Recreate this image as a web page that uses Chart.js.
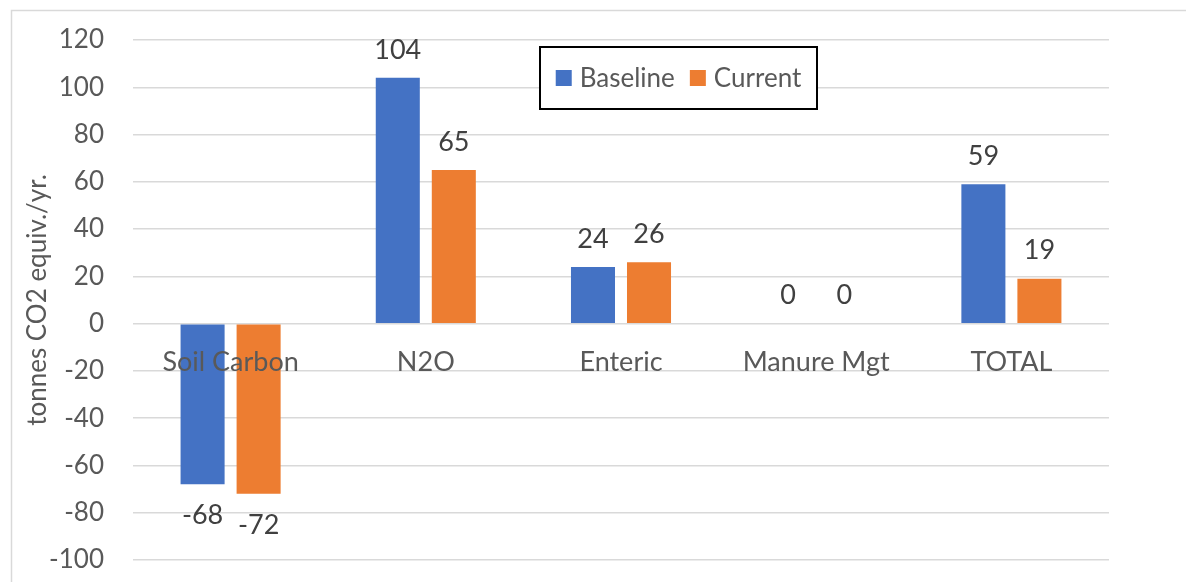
<!DOCTYPE html>
<html>
<head>
<meta charset="utf-8">
<script src="https://cdn.jsdelivr.net/npm/chart.js@4/dist/chart.umd.min.js"></script>
<style>
  html, body { margin: 0; padding: 0; background: #ffffff; }
  #wrap { width: 1186px; height: 582px; position: relative; }
</style>
</head>
<body>
<div id="wrap"><canvas id="chart" width="1186" height="582"></canvas></div>
<script>
// Emissions by source, tonnes CO2 equivalent per year
const categories = ['Soil Carbon', 'N2O', 'Enteric', 'Manure Mgt', 'TOTAL'];
const baselineValues = [-68, 104, 24, 0, 59];
const currentValues = [-72, 65, 26, 0, 19];
const seriesNames = ['Baseline', 'Current'];
const yTicks = { min: -100, max: 120, step: 20 };
const yTitle = 'tonnes CO2 equiv./yr.';

const FONT = 'Lato, "Open Sans", "Liberation Sans", sans-serif';
const BLUE = '#4472C4';
const ORANGE = '#ED7D31';
const GRID = '#d9d9d9';
const TEXT = '#595959';
const LABEL = '#404040';

// White background and the light frame around the whole chart
const framePlugin = {
  id: 'frame',
  beforeDraw(chart) {
    const ctx = chart.ctx;
    ctx.save();
    ctx.fillStyle = '#ffffff';
    ctx.fillRect(0, 0, chart.width, chart.height);
    ctx.strokeStyle = GRID;
    ctx.lineWidth = 1.5;
    ctx.strokeRect(11.5, 10.5, chart.width + 20, chart.height + 20);
    ctx.restore();
  }
};

// Value labels above positive bars and below negative ones
const valueLabelPlugin = {
  id: 'valueLabels',
  afterDatasetsDraw(chart) {
    const ctx = chart.ctx;
    ctx.save();
    ctx.font = '27px ' + FONT;
    ctx.fillStyle = LABEL;
    ctx.textAlign = 'center';
    ctx.textBaseline = 'middle';
    chart.data.datasets.forEach((ds, di) => {
      const meta = chart.getDatasetMeta(di);
      meta.data.forEach((bar, i) => {
        const v = ds.data[i];
        const y = v < 0 ? bar.y + 31 : bar.y - 28;
        ctx.fillText(String(v), bar.x, y);
      });
    });
    ctx.restore();
  }
};

// Boxed legend sitting inside the plot area
const boxLegendPlugin = {
  id: 'boxLegend',
  afterDraw(chart) {
    const ctx = chart.ctx;
    const box = { x: 540, y: 47, w: 277, h: 62 };
    ctx.save();
    ctx.fillStyle = '#ffffff';
    ctx.fillRect(box.x, box.y, box.w, box.h);
    ctx.strokeStyle = '#000000';
    ctx.lineWidth = 2;
    ctx.strokeRect(box.x, box.y, box.w, box.h);
    ctx.font = '26px ' + FONT;
    ctx.textBaseline = 'middle';
    const sq = 16, gapText = 8, gapItem = 15;
    const items = chart.data.datasets.map(ds => ({ label: ds.label, color: ds.backgroundColor, w: ctx.measureText(ds.label).width }));
    const total = items.reduce((s, it, k) => s + sq + gapText + it.w + (k ? gapItem : 0), 0);
    let x = box.x + (box.w - total) / 2;
    const cy = box.y + box.h / 2;
    items.forEach((it, k) => {
      if (k) x += gapItem;
      ctx.fillStyle = it.color;
      ctx.fillRect(x, cy - sq / 2, sq, sq);
      x += sq + gapText;
      ctx.fillStyle = TEXT;
      ctx.fillText(it.label, x, cy + 1);
      x += it.w;
    });
    ctx.restore();
  }
};

new Chart(document.getElementById('chart'), {
  type: 'bar',
  data: {
    labels: categories,
    datasets: [
      { label: seriesNames[0], data: baselineValues, backgroundColor: BLUE },
      { label: seriesNames[1], data: currentValues, backgroundColor: ORANGE }
    ]
  },
  options: {
    responsive: false,
    animation: false,
    devicePixelRatio: 1,
    categoryPercentage: 0.574,
    barPercentage: 0.786,
    layout: { padding: { left: 0, top: 40, right: 77, bottom: 22 } },
    plugins: {
      legend: { display: false },
      tooltip: { enabled: false }
    },
    scales: {
      x: {
        position: { y: 0 },
        grid: { display: false, drawTicks: false },
        border: { display: false },
        ticks: { z: 1, color: TEXT, font: { family: FONT, size: 27 }, padding: 22, maxRotation: 0, autoSkip: false }
      },
      y: {
        min: yTicks.min,
        max: yTicks.max,
        afterFit(scale) {
          scale.width = 133;
          scale.paddingTop = 0;
          scale.paddingBottom = 0;
        },
        grid: { color: GRID, lineWidth: 1.5, drawTicks: false },
        border: { display: false },
        ticks: { stepSize: yTicks.step, color: TEXT, font: { family: FONT, size: 26 }, padding: 29 },
        title: { display: true, text: yTitle, color: TEXT, font: { family: FONT, size: 26 }, padding: { top: 22, bottom: 0 } }
      }
    }
  },
  plugins: [framePlugin, valueLabelPlugin, boxLegendPlugin]
});
</script>
</body>
</html>
